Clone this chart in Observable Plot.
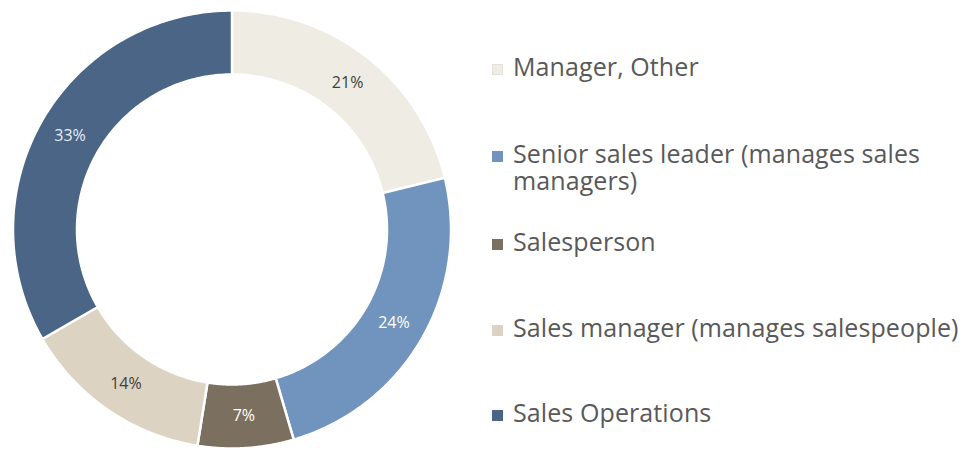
<!DOCTYPE html>
<html><head><meta charset="utf-8">
<script src="https://cdn.jsdelivr.net/npm/d3@7"></script>
<script src="https://cdn.jsdelivr.net/npm/@observablehq/plot@0.6"></script>
<style>
html,body{margin:0;padding:0;background:#fff;}
#wrap{position:relative;width:967px;height:450px;overflow:hidden;font-family:"Open Sans",sans-serif;background:#fff;}
#chart{position:absolute;left:0;top:0;}
.item{position:absolute;left:492px;width:475px;}
.sw{position:absolute;left:0;width:11px;height:11px;box-sizing:border-box;}
.lbl{position:absolute;left:21px;width:440px;font-size:25px;letter-spacing:0.1px;line-height:27px;color:#595959;white-space:nowrap;}
.lbl.wrap{white-space:normal;}
</style></head><body>
<div id="wrap"><div id="chart"></div><div id="legend"></div></div>
<script>
const categories = ["Manager, Other", "Senior sales leader (manages sales managers)", "Salesperson", "Sales manager (manages salespeople)", "Sales Operations"];
const values = [21, 24, 7, 14, 33];
const colors = ["#eeece3", "#7094bd", "#7b705f", "#ddd3c2", "#4a6586"];
const labelColors = ["#404040", "#ffffff", "#ffffff", "#404040", "#e8eef4"];

const data = categories.map((c, i) => ({category: c, value: values[i]}));
const inner = 155 / 219;
const labelR = (1 + inner) / 2;
const arcs = d3.pie().sort(null).value(d => d.value)(data);

const pts = [];
arcs.forEach(a => {
  const n = 120;
  for (let k = 0; k <= n; k++) {
    const t = a.startAngle + (a.endAngle - a.startAngle) * k / n;
    pts.push({category: a.data.category, x: Math.sin(t), y: Math.cos(t)});
  }
  for (let k = n; k >= 0; k--) {
    const t = a.startAngle + (a.endAngle - a.startAngle) * k / n;
    pts.push({category: a.data.category, x: inner * Math.sin(t), y: inner * Math.cos(t)});
  }
});
const labels = arcs.map((a, i) => {
  const m = (a.startAngle + a.endAngle) / 2;
  return {category: a.data.category, x: labelR * Math.sin(m), y: labelR * Math.cos(m), text: a.data.value + "%", color: labelColors[i]};
});

const plot = Plot.plot({
  width: 470, height: 450, margin: 0,
  style: {background: "#fff", fontFamily: "'Open Sans', sans-serif"},
  x: {domain: [-1, 1], range: [12.5, 450.5], axis: null},
  y: {domain: [-1, 1], range: [448, 10], axis: null},
  color: {type: "ordinal", domain: categories, range: colors},
  marks: [
    Plot.line(pts, {x: "x", y: "y", z: "category", fill: "category", stroke: "#ffffff", strokeWidth: 2.5, curve: "linear-closed"}),
    Plot.text(labels, {x: "x", y: "y", text: "text", fill: d => d.color, fontSize: 16})
  ]
});
document.getElementById("chart").appendChild(plot);

const colorScale = plot.scale("color");
const baselines = [76, 163, 251, 337, 422];
const legend = document.getElementById("legend");
categories.forEach((c, i) => {
  const item = document.createElement("div");
  item.className = "item";
  item.style.top = (baselines[i] - 23) + "px";
  const sw = document.createElement("div");
  sw.className = "sw";
  sw.style.top = "11px";
  sw.style.background = colorScale.apply(c);
  if (i === 0) sw.style.border = "1px solid #e4e2da";
  const lb = document.createElement("div");
  lb.className = "lbl" + (i === 1 ? " wrap" : "");
  lb.style.top = "0px";
  lb.textContent = c;
  item.appendChild(sw);
  item.appendChild(lb);
  legend.appendChild(item);
});
</script>
</body></html>
